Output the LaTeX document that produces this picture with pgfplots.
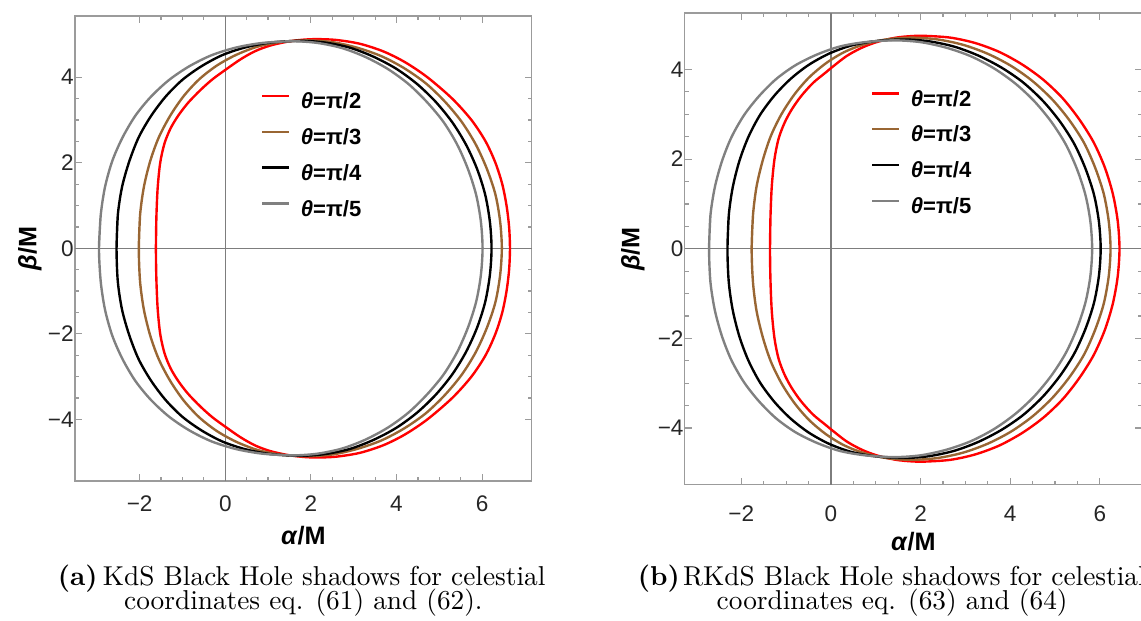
\documentclass[border=0pt]{standalone}
\usepackage{pgfplots}
\pgfplotsset{compat=1.18}
\usepackage{fontspec}
\setsansfont{Liberation Sans}

\definecolor{mbrown}{RGB}{153,102,51}
\definecolor{mgray}{RGB}{128,128,128}
\definecolor{framegray}{RGB}{155,155,155}
\definecolor{zerogray}{RGB}{125,125,125}

\pgfplotsset{
  shadowaxis/.style={
    scale only axis,
    clip mode=individual,
    axis line style={framegray, line width=0.45pt},
    tick style={framegray, line width=0.45pt},
    tick align=inside, tick pos=both,
    major tick length=2.6pt, minor tick length=1.5pt,
    minor tick num=3,
    xtick={-2,0,2,4,6}, xticklabels={−2,0,2,4,6},
    ytick={-4,-2,0,2,4}, yticklabels={−4,−2,0,2,4},
    tick label style={font=\sffamily\fontsize{8.5}{10}\selectfont, black!85},
    xticklabel style={yshift=-2pt},
    yticklabel style={xshift=3pt},
    legend cell align=left,
    legend style={draw=none, fill=none, inner sep=0pt, anchor=north west,
      row sep=6pt, column sep=0pt,
      font=\sffamily\bfseries\fontsize{8.3}{9}\selectfont,
      nodes={inner xsep=4pt, inner ysep=0pt, text height=6pt, text depth=1.5pt}},
    legend image code/.code={\draw[#1, line width=0.9pt] (0pt,2.5pt) -- (10.2pt,2.5pt);},
  },
}

\begin{document}
\begin{tikzpicture}
\useasboundingbox (0pt,0pt) rectangle (430.16pt,-233.74pt);
\clip (0pt,0pt) rectangle (430.16pt,-233.74pt);

% (a) KdS
\begin{axis}[shadowaxis,
  at={(28.28pt,-181.34pt)}, anchor=south west,
  width=172.2pt, height=175.3pt,
  xmin=-3.51, xmax=7.16, ymin=-5.44, ymax=5.43,
  legend style={at={(axis cs:0.82,3.65)}},
]
\draw[zerogray, line width=0.45pt] (axis cs:0,-5.44) -- (axis cs:0,5.43);
\draw[zerogray, line width=0.45pt] (axis cs:-3.51,0) -- (axis cs:7.16,0);

% theta = pi/2
\addplot[smooth, red, line width=0.9pt] coordinates {
 (-1.62,0) (-1.61,0.7) (-1.58,1.4) (-1.52,2.0) (-1.42,2.45) (-1.28,2.8) (-1.10,3.1)
 (-0.87,3.4) (-0.58,3.7) (-0.30,3.95) (0,4.17) (0.36,4.42) (0.7,4.61) (1.05,4.74)
 (1.45,4.83) (1.8,4.875) (2.14,4.89) (2.6,4.87) (3.15,4.78) (3.7,4.6) (4.2,4.35)
 (4.72,4.0) (5.3,3.5) (5.75,3.0) (6.08,2.5) (6.31,2.0) (6.47,1.5) (6.57,1.0) (6.63,0.5)
 (6.65,0)
 (6.63,-0.5) (6.57,-1.0) (6.47,-1.5) (6.31,-2.0) (6.08,-2.5) (5.75,-3.0) (5.3,-3.5)
 (4.72,-4.0) (4.2,-4.35) (3.7,-4.6) (3.15,-4.78) (2.6,-4.87) (2.14,-4.89) (1.8,-4.875)
 (1.45,-4.83) (1.05,-4.74) (0.7,-4.61) (0.36,-4.42) (0,-4.17) (-0.30,-3.95) (-0.58,-3.7)
 (-0.87,-3.4) (-1.10,-3.1) (-1.28,-2.8) (-1.42,-2.45) (-1.52,-2.0) (-1.58,-1.4)
 (-1.61,-0.7) (-1.62,0) (-1.61,0.7)
};
\addlegendentry{\textit{θ}=π/2}
% theta = pi/3
\addplot[smooth, mbrown, line width=0.9pt] coordinates {
 (-2.02,0) (-1.99,0.78) (-1.90,1.44) (-1.75,2.05) (-1.55,2.60) (-1.28,3.11) (-0.97,3.56)
 (-0.61,3.95) (-0.20,4.27) (0.25,4.52) (0.74,4.71) (1.27,4.82) (1.9,4.86) (2.50,4.82)
 (3.08,4.69) (3.65,4.49) (4.18,4.21) (4.68,3.86) (5.12,3.44) (5.52,2.96) (5.85,2.43)
 (6.11,1.86) (6.31,1.26) (6.42,0.63) (6.46,0)
 (6.42,-0.63) (6.31,-1.26) (6.11,-1.86) (5.85,-2.43) (5.52,-2.96) (5.12,-3.44) (4.68,-3.86)
 (4.18,-4.21) (3.65,-4.49) (3.08,-4.69) (2.50,-4.82) (1.9,-4.86) (1.27,-4.82) (0.74,-4.71)
 (0.25,-4.52) (-0.20,-4.27) (-0.61,-3.95) (-0.97,-3.56) (-1.28,-3.11) (-1.55,-2.60)
 (-1.75,-2.05) (-1.90,-1.44) (-1.99,-0.78) (-2.02,0) (-1.99,0.78)
};
\addlegendentry{\textit{θ}=π/3}
% theta = pi/4
\addplot[smooth, black, line width=0.9pt] coordinates {
 (-2.54,0) (-2.51,0.78) (-2.41,1.44) (-2.24,2.04) (-2.02,2.60) (-1.73,3.10) (-1.39,3.55)
 (-1.00,3.94) (-0.55,4.26) (-0.06,4.52) (0.48,4.70) (1.06,4.81) (1.75,4.85) (2.33,4.81)
 (2.91,4.69) (3.46,4.48) (3.99,4.20) (4.47,3.85) (4.91,3.43) (5.30,2.95) (5.62,2.43)
 (5.88,1.86) (6.07,1.26) (6.18,0.63) (6.22,0)
 (6.18,-0.63) (6.07,-1.26) (5.88,-1.86) (5.62,-2.43) (5.30,-2.95) (4.91,-3.43) (4.47,-3.85)
 (3.99,-4.20) (3.46,-4.48) (2.91,-4.69) (2.33,-4.81) (1.75,-4.85) (1.06,-4.81) (0.48,-4.70)
 (-0.06,-4.52) (-0.55,-4.26) (-1.00,-3.94) (-1.39,-3.55) (-1.73,-3.10) (-2.02,-2.60)
 (-2.24,-2.04) (-2.41,-1.44) (-2.51,-0.78) (-2.54,0) (-2.51,0.78)
};
\addlegendentry{\textit{θ}=π/4}
% theta = pi/5
\addplot[smooth, mgray, line width=0.9pt] coordinates {
 (-2.95,0) (-2.91,0.77) (-2.81,1.43) (-2.64,2.04) (-2.40,2.59) (-2.10,3.10) (-1.74,3.54)
 (-1.32,3.93) (-0.85,4.25) (-0.33,4.51) (0.24,4.69) (0.86,4.80) (1.58,4.84) (2.16,4.80)
 (2.73,4.68) (3.28,4.47) (3.80,4.19) (4.28,3.84) (4.71,3.42) (5.10,2.95) (5.42,2.42)
 (5.67,1.85) (5.86,1.25) (5.97,0.63) (6.01,0)
 (5.97,-0.63) (5.86,-1.25) (5.67,-1.85) (5.42,-2.42) (5.10,-2.95) (4.71,-3.42) (4.28,-3.84)
 (3.80,-4.19) (3.28,-4.47) (2.73,-4.68) (2.16,-4.80) (1.58,-4.84) (0.86,-4.80) (0.24,-4.69)
 (-0.33,-4.51) (-0.85,-4.25) (-1.32,-3.93) (-1.74,-3.54) (-2.10,-3.10) (-2.40,-2.59)
 (-2.64,-2.04) (-2.81,-1.43) (-2.91,-0.77) (-2.95,0) (-2.91,0.77)
};
\addlegendentry{\textit{θ}=π/5}

\node[font=\sffamily\bfseries\fontsize{9.5}{11}\selectfont] at ([yshift=-20.5pt]rel axis cs:0.5,0) {\textit{α}/M};
\node[font=\sffamily\bfseries\fontsize{9.5}{11}\selectfont, rotate=90] at ([xshift=-17pt]rel axis cs:0,0.5) {\textit{β}/M};
\end{axis}

% (b) RKdS
\begin{axis}[shadowaxis,
  at={(258.2pt,-182.8pt)}, anchor=south west,
  width=172.3pt, height=177.9pt,
  xmin=-3.26, xmax=6.94, ymin=-5.27, ymax=5.26,
  xticklabel style={yshift=-2.3pt},
  legend style={at={(axis cs:0.88,3.55)}},
]
\draw[zerogray, line width=0.45pt] (axis cs:0,-5.27) -- (axis cs:0,5.26);
\draw[zerogray, line width=0.45pt] (axis cs:-3.26,0) -- (axis cs:6.94,0);

% theta = pi/2
\addplot[smooth, red, line width=0.9pt] coordinates {
 (-1.36,0) (-1.35,0.7) (-1.32,1.4) (-1.26,2.0) (-1.17,2.45) (-1.04,2.8) (-0.88,3.1)
 (-0.67,3.4) (-0.40,3.7) (-0.12,3.93) (0,4.03) (0.35,4.3) (0.7,4.49) (1.05,4.62)
 (1.45,4.71) (1.8,4.745) (2.1,4.75) (2.67,4.71) (3.22,4.59) (3.76,4.39) (4.27,4.11)
 (4.74,3.77) (5.17,3.36) (5.54,2.89) (5.86,2.38) (6.11,1.82) (6.29,1.23) (6.40,0.62) (6.44,0)
 (6.40,-0.62) (6.29,-1.23) (6.11,-1.82) (5.86,-2.38) (5.54,-2.89) (5.17,-3.36) (4.74,-3.77)
 (4.27,-4.11) (3.76,-4.39) (3.22,-4.59) (2.67,-4.71) (2.1,-4.75) (1.8,-4.745) (1.45,-4.71)
 (1.05,-4.62) (0.7,-4.49) (0.35,-4.3) (0,-4.03) (-0.12,-3.93) (-0.40,-3.7) (-0.67,-3.4)
 (-0.88,-3.1) (-1.04,-2.8) (-1.17,-2.45) (-1.26,-2.0) (-1.32,-1.4) (-1.35,-0.7) (-1.36,0)
 (-1.35,0.7)
};
\addlegendentry{\textit{θ}=π/2}
% theta = pi/3
\addplot[smooth, mbrown, line width=0.9pt] coordinates {
 (-1.77,0) (-1.74,0.75) (-1.66,1.39) (-1.52,1.98) (-1.34,2.52) (-1.10,3.01) (-0.81,3.45)
 (-0.49,3.82) (-0.11,4.14) (0.30,4.39) (0.74,4.56) (1.23,4.67) (1.8,4.71) (2.38,4.67)
 (2.95,4.55) (3.50,4.35) (4.02,4.08) (4.50,3.74) (4.94,3.33) (5.32,2.87) (5.65,2.36)
 (5.90,1.80) (6.09,1.22) (6.20,0.61) (6.24,0)
 (6.20,-0.61) (6.09,-1.22) (5.90,-1.80) (5.65,-2.36) (5.32,-2.87) (4.94,-3.33) (4.50,-3.74)
 (4.02,-4.08) (3.50,-4.35) (2.95,-4.55) (2.38,-4.67) (1.8,-4.71) (1.23,-4.67) (0.74,-4.56)
 (0.30,-4.39) (-0.11,-4.14) (-0.49,-3.82) (-0.81,-3.45) (-1.10,-3.01) (-1.34,-2.52)
 (-1.52,-1.98) (-1.66,-1.39) (-1.74,-0.75) (-1.77,0) (-1.74,0.75)
};
\addlegendentry{\textit{θ}=π/3}
% theta = pi/4
\addplot[smooth, black, line width=0.9pt] coordinates {
 (-2.31,0) (-2.28,0.75) (-2.19,1.38) (-2.04,1.97) (-1.84,2.50) (-1.58,2.99) (-1.26,3.42)
 (-0.90,3.79) (-0.50,4.10) (-0.05,4.35) (0.44,4.53) (0.97,4.63) (1.6,4.67) (2.18,4.63)
 (2.75,4.51) (3.29,4.31) (3.81,4.04) (4.29,3.71) (4.73,3.30) (5.11,2.84) (5.43,2.34)
 (5.68,1.79) (5.87,1.21) (5.98,0.61) (6.02,0)
 (5.98,-0.61) (5.87,-1.21) (5.68,-1.79) (5.43,-2.34) (5.11,-2.84) (4.73,-3.30) (4.29,-3.71)
 (3.81,-4.04) (3.29,-4.31) (2.75,-4.51) (2.18,-4.63) (1.6,-4.67) (0.97,-4.63) (0.44,-4.53)
 (-0.05,-4.35) (-0.50,-4.10) (-0.90,-3.79) (-1.26,-3.42) (-1.58,-2.99) (-1.84,-2.50)
 (-2.04,-1.97) (-2.19,-1.38) (-2.28,-0.75) (-2.31,0) (-2.28,0.75)
};
\addlegendentry{\textit{θ}=π/4}
% theta = pi/5
\addplot[smooth, mgray, line width=0.9pt] coordinates {
 (-2.72,0) (-2.69,0.74) (-2.59,1.38) (-2.43,1.96) (-2.22,2.49) (-1.94,2.98) (-1.61,3.40)
 (-1.23,3.78) (-0.80,4.09) (-0.32,4.33) (0.19,4.51) (0.76,4.61) (1.42,4.65) (2.00,4.61)
 (2.56,4.49) (3.11,4.30) (3.63,4.03) (4.11,3.69) (4.54,3.29) (4.92,2.83) (5.24,2.33)
 (5.49,1.78) (5.68,1.20) (5.79,0.61) (5.83,0)
 (5.79,-0.61) (5.68,-1.20) (5.49,-1.78) (5.24,-2.33) (4.92,-2.83) (4.54,-3.29) (4.11,-3.69)
 (3.63,-4.03) (3.11,-4.30) (2.56,-4.49) (2.00,-4.61) (1.42,-4.65) (0.76,-4.61) (0.19,-4.51)
 (-0.32,-4.33) (-0.80,-4.09) (-1.23,-3.78) (-1.61,-3.40) (-1.94,-2.98) (-2.22,-2.49)
 (-2.43,-1.96) (-2.59,-1.38) (-2.69,-0.74) (-2.72,0) (-2.69,0.74)
};
\addlegendentry{\textit{θ}=π/5}

\node[font=\sffamily\bfseries\fontsize{9.5}{11}\selectfont] at ([yshift=-21.2pt]rel axis cs:0.5,0) {\textit{α}/M};
\node[font=\sffamily\bfseries\fontsize{9.5}{11}\selectfont, rotate=90] at ([xshift=-19.6pt]rel axis cs:0,0.5) {\textit{β}/M};
\end{axis}

% captions
\begin{scope}[every node/.style={anchor=base west, inner sep=0pt, font=\fontsize{10.3}{12}\selectfont}]
\node at (21.6pt,-220.55pt) {\textbf{(a)}};
\node at (38.6pt,-220.55pt) {KdS Black Hole shadows for celestial};
\node at (46.6pt,-229.9pt) {coordinates eq. (61) and (62).};
\node at (240.3pt,-220.55pt) {\textbf{(b)}};
\node at (257.3pt,-220.55pt) {RKdS Black Hole shadows for celestial};
\node at (270.0pt,-229.9pt) {coordinates eq. (63) and (64)};
\end{scope}
\end{tikzpicture}
\end{document}
